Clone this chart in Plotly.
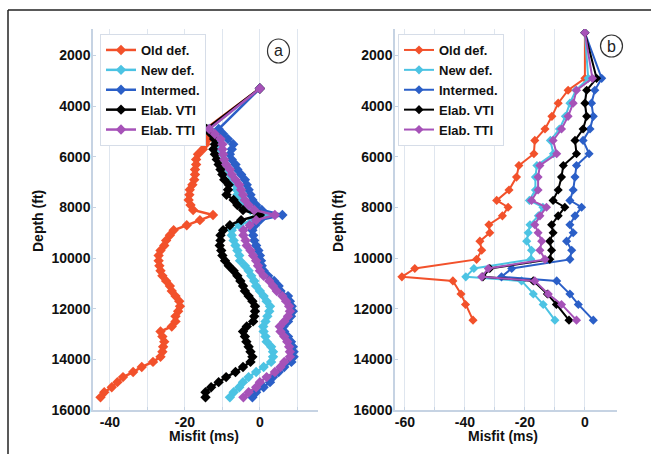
import plotly.graph_objects as go

# ---------------- data ----------------
series_names = ["Old def.", "New def.", "Intermed.", "Elab. VTI", "Elab. TTI"]
series_colors = ["#f2512b", "#4cc3e3", "#2b5fc7", "#000000", "#a652b8"]

# Panel (a): dense well log, depth in ft
depth_a = [3300, 4900, 5100, 5300, 5500, 5700, 5900, 6100, 6300, 6500, 6700, 6900, 7100,
           7300, 7500, 7700, 7900, 8100, 8300, 8500, 8700, 8900, 9100, 9300, 9500, 9700,
           9900, 10100, 10300, 10500, 10700, 10900, 11100, 11300, 11500, 11700, 11900,
           12100, 12300, 12500, 12700, 12900, 13100, 13300, 13500, 13700, 13900, 14100,
           14300, 14500, 14700, 14900, 15100, 15300, 15500]

old_a = [0, -14.5, -14, -13.8, -14.5, -15.2, -16.5, -17, -17, -17.3, -17.3, -17.5, -18,
         -18.7, -18.8, -19, -18.5, -17.8, -12.5, -16, -19.5, -23, -24, -25, -25.5, -26.5,
         -27, -27, -26.8, -26.5, -26, -25, -24, -23.5, -22.5, -21.5, -21.3,
         -21.8, -22.5, -22.5, -23.5, -26.5, -26, -25.5, -25.8, -26, -26.5, -28.5,
         -31.5, -33.8, -36.5, -38, -39.5, -41.5, -42.5]
new_a = [0, -13.5, -12, -11, -10.5, -10.5, -10, -9.5, -9, -8.5, -8, -7.5, -6.5,
         -6.2, -6, -5, -4, -2.5, 1.5, -2, -5.5, -7.5, -7.5, -7, -6.5, -6,
         -5.5, -5.3, -4, -3, -2.3, -1.5, -1, 0, 1, 1.8, 2.7,
         2.5, 2, 1.5, 0.9, 1, 1.5, 1.8, 3, 3.5, 3.5, 3,
         1, -1, -3, -4.5, -5.5, -7, -8]
inter_a = [0, -11, -9.8, -8.5, -7.1, -7.5, -8, -7.5, -6.5, -6, -5, -4, -3.5,
           -3, -2.5, -2, -1, 0.5, 6, 0, -1.3, -2, -1.8, -1.5, -1, -0.4,
           0, 0.3, 0.5, 1, 2.2, 3.8, 5, 5.5, 7.5, 8, 8.5,
           8.8, 8.3, 7.5, 6.3, 6.5, 7.5, 8.3, 8.8, 9, 9, 8.4,
           6.5, 5, 3.5, 2.7, 1, -1, -2]
vti_a = [0, -14.2, -13, -12.2, -12, -12.4, -12, -11.5, -11, -10.5, -10, -9.5, -8.3,
         -8.5, -8.9, -7, -6, -4.5, 0, -5, -8, -9.8, -10.5, -10.5, -10.7, -10.3,
         -10, -9.3, -8.3, -7, -6, -5.2, -4.5, -4, -3, -2, -1.3,
         -1.3, -1.5, -1.8, -3.5, -4.5, -4, -3.6, -3, -2.5, -2, -2.5,
         -4.5, -6.5, -9, -11, -13, -14.5, -14.5]
tti_a = [0, -13.5, -12, -10.5, -10, -10, -9.8, -9.5, -9, -8, -7.5, -6.5, -5.5,
         -5, -4.5, -4, -3, -1.5, 4, -1, -2.7, -4.4, -4.4, -3.8, -3.5, -2.5,
         -1.8, -1, -0.5, 0, 1, 2.5, 3.5, 4.5, 6, 7, 7.8,
         8, 7.5, 6.5, 5.3, 5.5, 6.5, 7.3, 7.8, 8, 8, 6.5,
         5.5, 4, 1.8, 0, -1, -3, -4.4]

# Panel (b): sparse well log
depth_b = [1100, 2900, 3370, 3880, 4400, 4900, 5350, 5880, 6340, 6800, 7310, 7720, 7990,
           8330, 8680, 9000, 9330, 9690, 10050, 10410, 10740, 10900, 11420, 11830, 12450]
old_b = [0, 0, -5.6, -8.9, -11, -13.3, -16.7, -17, -22, -22.8, -25.3, -29.4, -25.6,
         -27.5, -32, -31.7, -35, -34.4, -36.1, -56.7, -61, -44, -41.3, -39.8, -37.3]
new_b = [0, 1.1, -3, -5, -6.5, -8.5, -11.5, -10.5, -16, -16.5, -16.5, -18.5, -14,
         -15.5, -18.3, -18.9, -19.4, -17.8, -18, -37, -39.7, -21.1, -17.2, -13.9, -10]
inter_b = [0, 5.6, 3.3, 2.2, 2.8, 1.7, -0.6, 1.4, -2.8, -3.3, -3.9, -5, -1.1,
           -3.3, -5, -3.9, -6.1, -4.4, -5, -24.4, -27.8, -9.4, -5, -2.2, 2.8]
vti_b = [0, 3.9, 0.6, 0, 0.6, -0.6, -3.3, -2.8, -7.2, -7.8, -8.9, -10.6, -6.7,
         -8.9, -11.1, -10.6, -11.7, -11.1, -11.7, -31.7, -34, -17.2, -12.5, -9.5, -5.3]
tti_b = [0, 2.5, -2.8, -3.9, -5.6, -7.8, -10.6, -9.4, -15, -15.6, -15.6, -17.8, -12.8,
         -15, -16.7, -15.6, -14.4, -15, -13.3, -32.2, -34.4, -16.7, -12.2, -7.8, -2.8]

depth_ticks = [2000, 4000, 6000, 8000, 10000, 12000, 14000, 16000]
depth_text = ["2000", "4000", "6000", "8000", "10000", "12000", "14000", "16000"]
misfit_grid_a = [-40, -30, -20, -10, 0, 10]
misfit_text_a = ["-40", "", "-20", "", "0", ""]
misfit_grid_b = [-60, -50, -40, -30, -20, -10, 0]
misfit_text_b = ["-60", "", "-40", "", "-20", "", "0"]

# ---------------- figure ----------------
W, H = 651, 454
FONT = "Liberation Sans, Arial, sans-serif"


def fx(p):
    return p / W


def fy(p):
    return 1 - p / H


series_a = [old_a, new_a, inter_a, vti_a, tti_a]
series_b = [old_b, new_b, inter_b, vti_b, tti_b]

fig = go.Figure()
for name, col, vals in zip(series_names, series_colors, series_a):
    fig.add_trace(go.Scatter(
        x=vals, y=depth_a, mode="lines+markers", name=name,
        line=dict(color=col, width=2.5), marker=dict(color=col, size=8, symbol="diamond"),
        xaxis="x", yaxis="y", legend="legend"))
for name, col, vals in zip(series_names, series_colors, series_b):
    fig.add_trace(go.Scatter(
        x=vals, y=depth_b, mode="lines+markers", name=name,
        line=dict(color=col, width=2), marker=dict(color=col, size=7, symbol="diamond"),
        xaxis="x2", yaxis="y2", legend="legend2"))

grid_col = "#dfe6ef"
axis_col = "#c6d3e3"
tickfont = dict(family=FONT, size=14, color="#111", weight="bold")

ydom = [fy(410), fy(29)]
common_x = dict(showgrid=True, gridcolor=grid_col, gridwidth=1, zeroline=False,
                showline=True, linecolor=axis_col, linewidth=1.5, ticks="inside",
                ticklen=3, tickcolor=axis_col, tickfont=tickfont, tickmode="array",
                automargin=False, ticklabelstandoff=-2)
common_y = dict(showgrid=False, zeroline=False, showline=True, linecolor=axis_col,
                linewidth=1.5, ticks="inside", ticklen=3, tickcolor=axis_col,
                tickfont=tickfont, tickmode="array", tickvals=depth_ticks,
                ticktext=depth_text, range=[16000, 950], automargin=False,
                ticklabelstandoff=-2)

legend_font = dict(family=FONT, size=13, color="#111", weight="bold")
fig.update_layout(
    width=W, height=H, autosize=False,
    margin=dict(l=0, r=0, t=0, b=0, pad=0),
    paper_bgcolor="white", plot_bgcolor="white",
    font=dict(family=FONT),
    xaxis=dict(domain=[fx(93), fx(318)], range=[-44.5, 15.5], anchor="y",
               tickvals=misfit_grid_a, ticktext=misfit_text_a, **common_x),
    yaxis=dict(domain=ydom, anchor="x", **common_y),
    xaxis2=dict(domain=[fx(395), fx(617)], range=[-63.3, 10.7], anchor="y2",
                tickvals=misfit_grid_b, ticktext=misfit_text_b, **common_x),
    yaxis2=dict(domain=ydom, anchor="x2", **common_y),
    legend=dict(x=fx(100), y=fy(34), xanchor="left", yanchor="top",
                bgcolor="white", bordercolor="#d6dde8", borderwidth=1,
                font=legend_font, itemwidth=30, tracegroupgap=0),
    legend2=dict(x=fx(398), y=fy(34), xanchor="left", yanchor="top",
                 bgcolor="white", bordercolor="#d6dde8", borderwidth=1,
                 font=legend_font, itemwidth=30, tracegroupgap=0),
    showlegend=True,
)

title_font = dict(family=FONT, size=14, color="#111", weight="bold")
annotations = [
    dict(text="Depth (ft)", x=fx(38), y=fy(221), textangle=-90),
    dict(text="Depth (ft)", x=fx(338), y=fy(221), textangle=-90),
    dict(text="Misfit (ms)", x=fx(204), y=fy(436)),
    dict(text="Misfit (ms)", x=fx(503), y=fy(436)),
]
for a in annotations:
    a.update(xref="paper", yref="paper", showarrow=False, font=title_font,
             xanchor="center", yanchor="middle")
annotations += [
    dict(text="a", x=fx(278.5), y=fy(51), xref="paper", yref="paper", showarrow=False,
         font=dict(family=FONT, size=16, color="#222"), xanchor="center", yanchor="middle"),
    dict(text="b", x=fx(611.5), y=fy(46), xref="paper", yref="paper", showarrow=False,
         font=dict(family=FONT, size=16, color="#222"), xanchor="center", yanchor="middle"),
]
fig.update_layout(annotations=annotations)

shapes = [
    dict(type="line", xref="paper", yref="paper", x0=fx(8), x1=1, y0=fy(10), y1=fy(10),
         line=dict(color="#222", width=1.5)),
    dict(type="line", xref="paper", yref="paper", x0=fx(8), x1=fx(8), y0=fy(10), y1=0,
         line=dict(color="#222", width=1.5)),
    dict(type="circle", xref="paper", yref="paper", x0=fx(267.5), x1=fx(289.5),
         y0=fy(63), y1=fy(39), line=dict(color="#333", width=1.2)),
    dict(type="circle", xref="paper", yref="paper", x0=fx(600.5), x1=fx(622.5),
         y0=fy(57), y1=fy(35), line=dict(color="#333", width=1.2)),
]
fig.update_layout(shapes=shapes)

fig.write_html("out.html",
               config={"displayModeBar": False},
               post_script="document.body.style.margin='0px';"
                           "document.body.style.overflow='hidden';")
